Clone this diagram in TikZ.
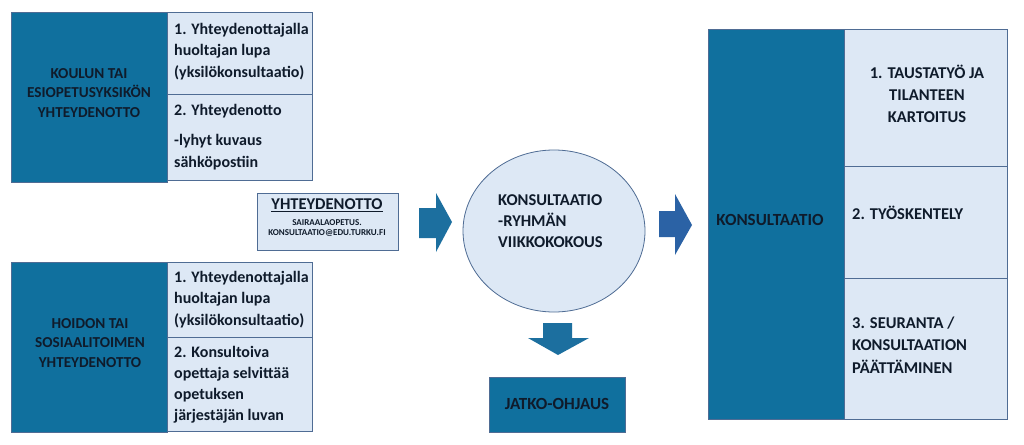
\documentclass[tikz,border=0pt]{standalone}
\usepackage{fontspec}
\setmainfont{Carlito}
\usetikzlibrary{positioning}
\definecolor{dkblue}{HTML}{10709E}
\definecolor{ltblue}{HTML}{DDE8F5}
\definecolor{edgec}{HTML}{4F6C94}
\definecolor{arrA}{HTML}{1C6F9F}
\definecolor{arrB}{HTML}{2B62A5}
\definecolor{txtc}{HTML}{0F1B2B}
\begin{document}
\begin{tikzpicture}[x=1pt,y=-1pt,
  darkbox/.style={draw=edgec,fill=dkblue,line width=0.8pt},
  lightbox/.style={draw=edgec,fill=ltblue,line width=0.8pt},
  hdtxt/.style={inner sep=0pt,text=txtc,font=\bfseries\fontsize{15.2}{19.5}\selectfont,align=center},
  bodytxt/.style={inner sep=0pt,text=txtc,font=\bfseries\fontsize{16}{21.5}\selectfont,align=left,anchor=north west},
  blockarrA/.style={fill=arrA},
  blockarrB/.style={fill=arrB}]
\useasboundingbox (0,0) rectangle (1024,444);
\fill[white] (0,0) rectangle (1024,444);

% top-left group
\draw[darkbox] (11,12) rectangle (167,182);
\draw[lightbox] (167,12) rectangle (312,94);
\draw[lightbox] (167,94) rectangle (312,180);
\node[hdtxt] (t1) at (89,93) {KOULUN TAI\\ESIOPETUSYKSIKÖN\\YHTEYDENOTTO};
\node[bodytxt] (t2) at (174,23) {1. Yhteydenottajalla\\huoltajan lupa\\(yksilökonsultaatio)};
\node[bodytxt,font=\bfseries\fontsize{16}{22.5}\selectfont] (t3) at (174,104) {2. Yhteydenotto\\[7.5pt]-lyhyt kuvaus\\sähköpostiin};

% bottom-left group
\draw[darkbox] (11,262) rectangle (167,432);
\draw[lightbox] (167,262) rectangle (312,337);
\draw[lightbox] (167,337) rectangle (312,431);
\node[hdtxt] (t4) at (90,343) {HOIDON TAI\\SOSIAALITOIMEN\\YHTEYDENOTTO};
\node[bodytxt] (t5) at (174,271) {1. Yhteydenottajalla\\huoltajan lupa\\(yksilökonsultaatio)};
\node[bodytxt,font=\bfseries\fontsize{16}{20.9}\selectfont] (t6) at (174,346) {2. Konsultoiva\\opettaja selvittää\\opetuksen\\järjestäjän luvan};

% contact box
\draw[lightbox] (257,193) rectangle (398,250);
\node[inner sep=0pt,text=txtc,font=\bfseries\fontsize{16.5}{17}\selectfont] (t7) at (327,205) {\underline{YHTEYDENOTTO}};
\node[inner sep=0pt,text=txtc,font=\bfseries\fontsize{9}{10.5}\selectfont,align=center] (t8) at (327,228) {SAIRAALAOPETUS.\\KONSULTAATIO@EDU.TURKU.FI};

% arrow 1
\fill[blockarrA] (419,208) -- (436,208) -- (436,193) -- (452,222) -- (436,252) -- (436,238) -- (419,238) -- cycle;

% circle
\draw[draw=edgec,fill=ltblue,line width=0.8pt] (554,231) ellipse [x radius=91, y radius=81];
\node[bodytxt,anchor=west,font=\bfseries\fontsize{16.5}{21}\selectfont] (t9) at (498,221) {KONSULTAATIO\\-RYHMÄN\\VIIKKOKOKOUS};

% down arrow
\fill[blockarrA] (543,323) -- (572,323) -- (572,338) -- (589,338) -- (558,355) -- (528,338) -- (543,338) -- cycle;

% jatko-ohjaus
\draw[darkbox] (489,377) rectangle (625,432);
\node[hdtxt,font=\bfseries\fontsize{17}{19}\selectfont] (t10) at (557,404) {JATKO-OHJAUS};

% arrow 2
\fill[blockarrB] (659,211) -- (675,211) -- (675,194) -- (692,225) -- (675,255) -- (675,237) -- (659,237) -- cycle;

% right group
\draw[darkbox] (708,29) rectangle (844,419);
\draw[lightbox] (844,29) rectangle (1007,166);
\draw[lightbox] (844,166) rectangle (1007,278);
\draw[lightbox] (844,278) rectangle (1007,419);
\node[hdtxt,font=\bfseries\fontsize{17}{19}\selectfont] (t11) at (770,220) {KONSULTAATIO};
\node[hdtxt,font=\bfseries\fontsize{16.5}{22}\selectfont] (t12) at (927,94) {1. TAUSTATYÖ JA\\TILANTEEN\\KARTOITUS};
\node[bodytxt,anchor=west,font=\bfseries\fontsize{16.5}{21}\selectfont] (t13) at (852,213) {2. TYÖSKENTELY};
\node[bodytxt,anchor=west,font=\bfseries\fontsize{16.5}{22.5}\selectfont] (t14) at (852,345) {3. SEURANTA /\\KONSULTAATION\\PÄÄTTÄMINEN};
\end{tikzpicture}
\end{document}
